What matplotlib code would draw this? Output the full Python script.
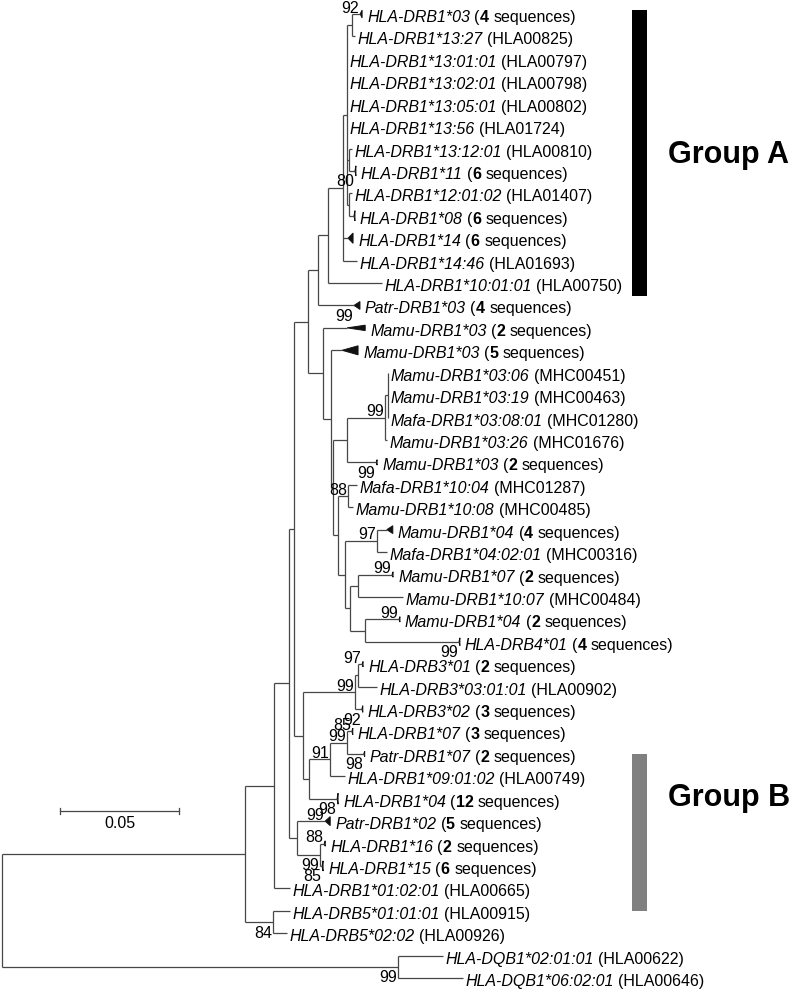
import re
import matplotlib
matplotlib.use('Agg')
import matplotlib.pyplot as plt
from matplotlib.patches import Polygon, Rectangle

plt.rcParams['font.family'] = ['Liberation Sans', 'DejaVu Sans']

## Dados da árvore

# nomes dos terminais, na ordem de cima para baixo
names = ['HLA-DRB1*03', 'HLA-DRB1*13:27', 'HLA-DRB1*13:01:01', 'HLA-DRB1*13:02:01',
         'HLA-DRB1*13:05:01', 'HLA-DRB1*13:56', 'HLA-DRB1*13:12:01', 'HLA-DRB1*11',
         'HLA-DRB1*12:01:02', 'HLA-DRB1*08', 'HLA-DRB1*14', 'HLA-DRB1*14:46',
         'HLA-DRB1*10:01:01', 'Patr-DRB1*03', 'Mamu-DRB1*03', 'Mamu-DRB1*03',
         'Mamu-DRB1*03:06', 'Mamu-DRB1*03:19', 'Mafa-DRB1*03:08:01', 'Mamu-DRB1*03:26',
         'Mamu-DRB1*03', 'Mafa-DRB1*10:04', 'Mamu-DRB1*10:08', 'Mamu-DRB1*04',
         'Mafa-DRB1*04:02:01', 'Mamu-DRB1*07', 'Mamu-DRB1*10:07', 'Mamu-DRB1*04',
         'HLA-DRB4*01', 'HLA-DRB3*01', 'HLA-DRB3*03:01:01', 'HLA-DRB3*02',
         'HLA-DRB1*07', 'Patr-DRB1*07', 'HLA-DRB1*09:01:02', 'HLA-DRB1*04',
         'Patr-DRB1*02', 'HLA-DRB1*16', 'HLA-DRB1*15', 'HLA-DRB1*01:02:01',
         'HLA-DRB5*01:01:01', 'HLA-DRB5*02:02', 'HLA-DQB1*02:01:01', 'HLA-DQB1*06:02:01']

# número de sequências (clado colapsado) ou código de acesso
extras = [4, 'HLA00825', 'HLA00797', 'HLA00798', 'HLA00802', 'HLA01724', 'HLA00810', 6,
          'HLA01407', 6, 6, 'HLA01693', 'HLA00750', 4, 2, 5,
          'MHC00451', 'MHC00463', 'MHC01280', 'MHC01676', 2, 'MHC01287', 'MHC00485', 4,
          'MHC00316', 2, 'MHC00484', 2, 4, 2, 'HLA00902', 3,
          3, 2, 'HLA00749', 12, 5, 2, 6, 'HLA00665',
          'HLA00915', 'HLA00926', 'HLA00622', 'HLA00646']

# profundidade dos triângulos dos clados colapsados (substituições/sítio)
wedge_depth = {1: 0.0008, 8: 0.0004, 10: 0.0004, 11: 0.0021, 14: 0.0025, 15: 0.0076,
               16: 0.0067, 21: 0.0004, 24: 0.0025, 26: 0.0004, 28: 0.0004, 29: 0.0004,
               30: 0.0004, 32: 0.0004, 33: 0.0004, 34: 0.0004, 36: 0.0004, 37: 0.0021,
               38: 0.0004, 39: 0.0004}

# bootstrap dos clados colapsados (a = acima, b = abaixo)
wedge_support = {1: '92a', 8: '80b', 14: '99b', 21: '99b', 26: '99a', 28: '99a',
                 29: '99b', 30: '97a', 32: '92b', 33: '85a', 34: '98b', 36: '98b',
                 37: '99a', 38: '88a', 39: '85b'}

# topologia em Newick (comprimentos em substituições/sítio, bootstrap + posição)
n7 = ("(((((t1:0.0034,t2:0.0013):0.0021,t3:0,t4:0,t5:0,t6:0,(t7:0.0013,t8:0.0025):0.0008,"
      "(t9:0.0013,t10:0.0021):0.0008):0.0017,t11:0.0021,t12:0.0059):0.0063,"
      "t13:0.0227):0.0042,t14:0.0151):0.0042")
n12 = "(((t17:0,t18:0,t19:0):0.0013,t20:0.0008)99a:0.0160,t21:0.0122):0.0059"
n18 = ("((t24:0.0042,t25:0.0042)97a:0.0134,((t26:0.0143,t27:0.0189):0.0034,"
       "(t28:0.0143,t29:0.0395):0.0063):0.0021):0.0029")
n13 = f"((t22:0.0038,t23:0.0021)88a:0.0042,{n18}):0.0021"
n9 = f"(t15:0.0101,(t16:0.0046,({n12},{n13}):0.0008):0.0034):0.0063"
nD = "((t30:0.0017,t31:0.0080):0.0013,t32:0.0029)99a:0.0218"
nI = "(((t33:0.0021,t34:0.0071)99a:0.0071,t35:0.0063)91a:0.0088,t36:0.0118):0.0025"
nB = f"(({n7},{n9}):0.0059,({nD},{nI}):0.0038):0.0021"
nK = "(t37:0.0118,(t38:0.0017,t39:0.0008)99b:0.0097):0.0034"
nM = f"(({nB},{nK}):0.0063,t40:0.0067):0.0122"
nA = f"({nM},(t41:0.0071,t42:0.0059)84b:0.0118):0.1021"
tree = f"({nA},(t43:0.0189,t44:0.0273)99b:0.1664);"

scale_len = 0.05
groups = ['Group A', 'Group B']
group_rows = [(-0.2, 12.6), (33.0, 40.0)]

## Geometria da figura (pixels)
W, H = 798, 995
PX = 2380.0      # pixels por substituição/sítio
LEFT = 2.0
TOP = 15.0
ROW = 22.42
FS = 11.5
LW = 0.9
LC = '#474747'


def parse(s):
    pos = 0

    def node():
        nonlocal pos
        n = {'kids': [], 'label': '', 'len': 0.0}
        if s[pos] == '(':
            pos += 1
            while True:
                n['kids'].append(node())
                if s[pos] == ',':
                    pos += 1
                else:
                    break
            pos += 1
        m = re.match(r'[^:,();]*', s[pos:])
        n['label'] = m.group(0)
        pos += len(m.group(0))
        if s[pos] == ':':
            m = re.match(r':([0-9.]+)', s[pos:])
            n['len'] = float(m.group(1))
            pos += len(m.group(0))
        return n

    return node()


leaves = []


def layout(n, x0):
    n['x'] = x0 + n['len']
    if n['kids']:
        for k in n['kids']:
            layout(k, n['x'])
        n['y'] = (n['kids'][0]['y'] + n['kids'][-1]['y']) / 2
    else:
        n['y'] = len(leaves)
        leaves.append(n)


root = parse(tree)
layout(root, 0.0)

fig = plt.figure(figsize=(W / 100, H / 100), dpi=100)
ax = fig.add_axes([0, 0, 1, 1])
ax.set_xlim(-LEFT / PX, (W - LEFT) / PX)
ax.set_ylim((H - TOP) / ROW, -TOP / ROW)
ax.axis('off')
renderer = fig.canvas.get_renderer()


def px_x(x):
    return LEFT + x * PX


def px_y(r):
    return TOP + r * ROW


def text_px(x, y, s, size=FS, **kw):
    return ax.text((x - LEFT) / PX, (y - TOP) / ROW, s, fontsize=size, **kw)


def support(x, y, lab):
    val, where = lab[:-1], lab[-1]
    if where == 'a':
        text_px(px_x(x) - 1, px_y(y) - 2.5, val, ha='right', va='baseline')
    else:
        text_px(px_x(x) - 1, px_y(y) + 2.5, val, ha='right', va='top')


def draw(n):
    if not n['kids']:
        return
    ax.plot([n['x'], n['x']], [n['kids'][0]['y'], n['kids'][-1]['y']],
            color=LC, lw=LW, solid_capstyle='butt')
    for k in n['kids']:
        ax.plot([n['x'], k['x']], [k['y'], k['y']], color=LC, lw=LW, solid_capstyle='butt')
        draw(k)
    if n['label']:
        support(n['x'], n['y'], n['label'])


draw(root)

## Terminais: triângulos e rótulos
space = 4.4
for i, leaf in enumerate(leaves):
    idx = i + 1
    x_end = leaf['x']
    extra = extras[i]
    if idx in wedge_depth:
        d = wedge_depth[idx]
        h = min(3 + 1.2 * extra, 11) / ROW
        ax.add_patch(Polygon([(x_end, leaf['y']), (x_end + d, leaf['y'] - h / 2),
                              (x_end + d, leaf['y'] + h / 2)], closed=True,
                             facecolor='#111111', edgecolor='#111111', lw=0.7))
        if idx in wedge_support:
            support(x_end, leaf['y'], wedge_support[idx])
        x0 = px_x(x_end + d) + 5
        pieces = [(names[i], {'style': 'italic'}, 0), ('(', {}, space),
                  (str(extra), {'weight': 'bold'}, 0), ('sequences)', {}, space)]
    else:
        x0 = px_x(x_end) + 2.5
        pieces = [(names[i], {'style': 'italic'}, 0), (f'({extra})', {}, space)]
    y0 = px_y(leaf['y']) + 7
    x = x0
    for s, kw, gap in pieces:
        x += gap
        t = text_px(x, y0, s, ha='left', va='baseline', **kw)
        x += t.get_window_extent(renderer).width

## Barra de escala
sx0 = (60 - LEFT) / PX
sy = (812 - TOP) / ROW
ax.plot([sx0, sx0 + scale_len], [sy, sy], color=LC, lw=LW)
for xe in (sx0, sx0 + scale_len):
    ax.plot([xe, xe], [sy - 3 / ROW, sy + 3 / ROW], color=LC, lw=LW)
text_px(px_x(sx0 + scale_len / 2), 816, f'{scale_len:.2f}', ha='center', va='top')

## Barras dos grupos
bar_col = ['#000000', '#808080']
lab_y = [155, 798]
for g, (r0, r1), col, ly in zip(groups, group_rows, bar_col, lab_y):
    ax.add_patch(Rectangle(((632 - LEFT) / PX, r0), 15 / PX, r1 - r0,
                           facecolor=col, edgecolor='none'))
    text_px(668, ly, g, size=22, ha='left', va='center', weight='bold')

fig.savefig('out.png', dpi=100)
